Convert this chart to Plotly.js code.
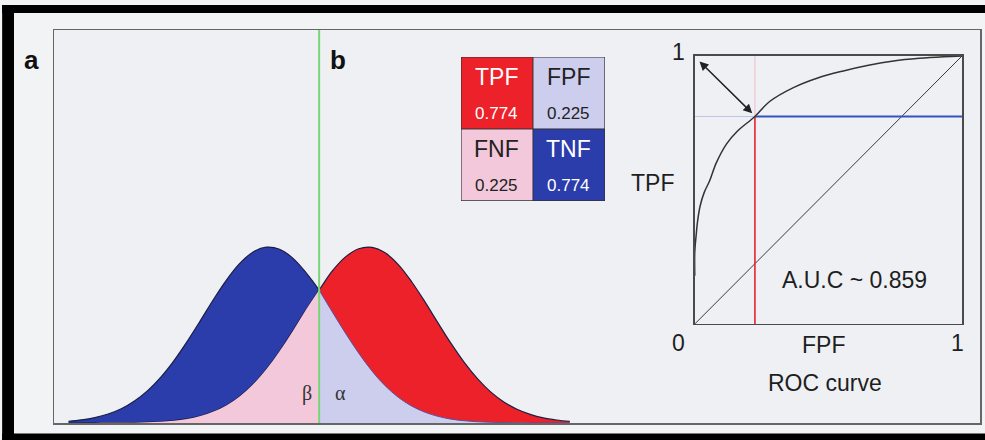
<!DOCTYPE html>
<html>
<head>
<meta charset="utf-8">
<script src="https://cdn.plot.ly/plotly-3.0.1.min.js"></script>
<style>
html,body{margin:0;padding:0;background:#f3f4f6;}
#chart{width:985px;height:440px;}
</style>
</head>
<body>
<div id="chart"></div>
<script>
// ---- data ----
const scoreX = [-3.8,-3.6,-3.4,-3.2,-3.0,-2.8,-2.6,-2.4,-2.2,-2.0,-1.8,-1.6,-1.4,-1.2,-1.0,-0.8,-0.6,-0.4,-0.2,0,
                0.2,0.4,0.6,0.8,1.0,1.2,1.4,1.6,1.8,2.0,2.2,2.4,2.6,2.8,3.0,3.2,3.4,3.6,3.8];
const negativeDensity = [0.010,0.018,0.031,0.051,0.081,0.125,0.184,0.261,0.355,0.464,0.582,0.703,0.815,0.908,0.972,0.999,0.987,0.937,0.855,0.755,
                0.631,0.510,0.397,0.296,0.212,0.146,0.097,0.062,0.038,0.022,0.013,0.007,0.004,0.002,0.001,0,0,0,0];
const positiveDensity = [0,0,0,0.001,0.001,0.002,0.004,0.007,0.013,0.023,0.040,0.065,0.101,0.152,0.220,0.305,0.407,0.522,0.643,0.755,
                0.864,0.944,0.990,0.998,0.967,0.900,0.804,0.691,0.570,0.452,0.344,0.252,0.177,0.120,0.078,0.049,0.029,0.017,0.009];
const threshold = 0;

const cellNames = ["TPF","FPF","FNF","TNF"];
const cellValues = [0.774, 0.225, 0.225, 0.774];

const rocFPF = [0, 0, 0.005, 0.01, 0.02, 0.035, 0.056, 0.08, 0.119, 0.16, 0.225, 0.28, 0.369, 0.46, 0.556, 0.65, 0.744, 0.84, 0.931, 1.0];
const rocTPF = [0.18, 0.27, 0.33, 0.38, 0.44, 0.49, 0.535, 0.60, 0.672, 0.72, 0.774, 0.83, 0.882, 0.918, 0.944, 0.965, 0.981, 0.991, 0.997, 1.0];
const operatingFPF = 0.225;
const operatingTPF = 0.774;
const aucText = "A.U.C ~ 0.859";
const rocAxisLabels = ["0", "1", "1"];
const rocTitle = "ROC curve";

// ---- styles ----
const BLUE = "#2b3cab", RED = "#ec2129", PINK = "#f3c8da", LAV = "#cdcdee";
const OUT = "#1c1f45";
const yTop = 2.233;

const iThr = scoreX.indexOf(threshold);
const traces = [];

// distributions
traces.push({x: scoreX, y: negativeDensity, type: "scatter", mode: "lines", fill: "tozeroy",
  fillcolor: BLUE, line: {color: OUT, width: 1.2, shape: "spline"}, hoverinfo: "skip"});
traces.push({x: scoreX, y: positiveDensity, type: "scatter", mode: "lines", fill: "tozeroy",
  fillcolor: RED, line: {color: OUT, width: 1.2, shape: "spline"}, hoverinfo: "skip"});
traces.push({x: scoreX.slice(0, iThr + 1), y: positiveDensity.slice(0, iThr + 1), type: "scatter", mode: "lines",
  fill: "tozeroy", fillcolor: PINK, line: {color: "rgba(0,0,0,0)", width: 0, shape: "spline"}, hoverinfo: "skip"});
traces.push({x: scoreX.slice(iThr), y: negativeDensity.slice(iThr), type: "scatter", mode: "lines",
  fill: "tozeroy", fillcolor: LAV, line: {color: "#5b4f9e", width: 1, shape: "spline"}, hoverinfo: "skip"});
// threshold
traces.push({x: [threshold, threshold], y: [0, yTop], type: "scatter", mode: "lines",
  line: {color: "#78d678", width: 2}, hoverinfo: "skip", cliponaxis: false});

// confusion matrix
traces.push({type: "heatmap", xaxis: "x3", yaxis: "y3",
  x: [0, 1], y: [0, 1], z: [[0, 1], [2, 3]], zmin: -0.5, zmax: 3.5, showscale: false, hoverinfo: "skip",
  colorscale: [[0, RED], [0.25, RED], [0.25, LAV], [0.5, LAV], [0.5, PINK], [0.75, PINK], [0.75, BLUE], [1, BLUE]]});

// ROC
traces.push({x: [operatingFPF, operatingFPF], y: [operatingTPF, 1], xaxis: "x2", yaxis: "y2", type: "scatter", mode: "lines",
  line: {color: "#f2bcc6", width: 1}, hoverinfo: "skip", cliponaxis: false});
traces.push({x: [0, operatingFPF], y: [operatingTPF, operatingTPF], xaxis: "x2", yaxis: "y2", type: "scatter", mode: "lines",
  line: {color: "#bcc6ea", width: 1}, hoverinfo: "skip", cliponaxis: false});
traces.push({x: [0, 1], y: [0, 1], xaxis: "x2", yaxis: "y2", type: "scatter", mode: "lines",
  line: {color: "#3a3a3a", width: 1}, hoverinfo: "skip", cliponaxis: false});
traces.push({x: [operatingFPF, operatingFPF], y: [0, operatingTPF], xaxis: "x2", yaxis: "y2", type: "scatter", mode: "lines",
  line: {color: "#e8222c", width: 1.6}, hoverinfo: "skip", cliponaxis: false});
traces.push({x: [operatingFPF, 1], y: [operatingTPF, operatingTPF], xaxis: "x2", yaxis: "y2", type: "scatter", mode: "lines",
  line: {color: "#3552c2", width: 2}, hoverinfo: "skip", cliponaxis: false});
traces.push({x: rocFPF, y: rocTPF, xaxis: "x2", yaxis: "y2", type: "scatter", mode: "lines",
  line: {color: "#333", width: 1.5, shape: "spline"}, hoverinfo: "skip", cliponaxis: false});

// annotations
const TXT = "#1e1e1e";
const ann = [];
function txt(xref, yref, x, y, text, font) {
  ann.push({xref, yref, x, y, text, showarrow: false, xanchor: "center", yanchor: "middle", font});
}
const BF = {family: "Liberation Sans, Arial, sans-serif", size: 26, color: "#111"};
txt("paper", "paper", -0.0238, 0.9237, "<b>a</b>", BF);
txt("paper", "paper", 0.3067, 0.9237, "<b>b</b>", BF);
const GF = {family: "Liberation Serif, Times New Roman, serif", size: 20, color: "#333"};
txt("x", "y", -0.18, 0.17, "β", GF);
txt("x", "y", 0.33, 0.17, "α", GF);

const cellPos = [[0, 0], [1, 0], [0, 1], [1, 1]];
const cellTextColor = ["#fff", "#222", "#222", "#fff"];
cellNames.forEach((n, i) => {
  txt("x3", "y3", cellPos[i][0], cellPos[i][1] - 0.22, n,
    {family: "Liberation Sans, Arial, sans-serif", size: 23, color: cellTextColor[i]});
  txt("x3", "y3", cellPos[i][0], cellPos[i][1] + 0.28, cellValues[i].toFixed(3),
    {family: "Liberation Sans, Arial, sans-serif", size: 17, color: cellTextColor[i]});
});

const LF = {family: "Liberation Sans, Arial, sans-serif", size: 23, color: TXT};
txt("paper", "paper", 0.6739, 0.944, rocAxisLabels[2], LF);
txt("paper", "paper", 0.6739, 0.2036, rocAxisLabels[0], LF);
txt("paper", "paper", 0.9762, 0.2036, rocAxisLabels[1], LF);
txt("paper", "paper", 0.8305, 0.1985, "FPF", LF);
txt("paper", "paper", 0.8326, 0.1018, rocTitle, LF);
txt("paper", "paper", 0.6458, 0.6107, "TPF", LF);
txt("x2", "y2", 0.599, 0.164, aucText, LF);
// double-headed arrow
ann.push({xref: "x2", yref: "y2", axref: "x2", ayref: "y2", x: operatingFPF - 0.01, y: operatingTPF + 0.012,
  ax: 0.012, ay: 0.985, text: "", showarrow: true, arrowhead: 2, startarrowhead: 2, arrowside: "end+start",
  arrowsize: 1.2, startarrowsize: 1.2, arrowwidth: 1.5, arrowcolor: "#222"});

const shapes = [
  // scan frame (black)
  {type: "rect", xref: "paper", yref: "paper", x0: -0.056, x1: -0.0432, y0: -0.0433, y1: 1.0636, fillcolor: "#000", line: {width: 0}},
  {type: "rect", xref: "paper", yref: "paper", x0: -0.056, x1: 1.0054, y0: 1.0433, y1: 1.0636, fillcolor: "#000", line: {width: 0}},
  {type: "rect", xref: "paper", yref: "paper", x0: -0.056, x1: 1.0054, y0: -0.0433, y1: -0.027, fillcolor: "#000", line: {width: 0}},
  // matrix grid
  {type: "rect", xref: "x3", yref: "y3", x0: -0.5, x1: 1.5, y0: -0.5, y1: 1.5, line: {color: "#333", width: 1.2}},
  {type: "line", xref: "x3", yref: "y3", x0: 0.5, x1: 0.5, y0: -0.5, y1: 1.5, line: {color: "#333", width: 1}},
  {type: "line", xref: "x3", yref: "y3", x0: -0.5, x1: 1.5, y0: 0.5, y1: 0.5, line: {color: "#333", width: 1}}
];

const layout = {
  width: 985, height: 440,
  margin: {l: 54, r: 5, t: 30, b: 17, pad: 0},
  paper_bgcolor: "#f2f3f5", plot_bgcolor: "#eef0f4",
  showlegend: false,
  xaxis: {range: [-4.02, 10.02], showgrid: false, zeroline: false, showticklabels: false, ticks: "",
    showline: true, mirror: true, linecolor: "#666", linewidth: 1.5},
  yaxis: {range: [0, yTop], showgrid: false, zeroline: false, showticklabels: false, ticks: "",
    showline: true, mirror: true, linecolor: "#666", linewidth: 1.5},
  xaxis2: {domain: [0.692, 0.9806], anchor: "y2", range: [0, 1], showgrid: false, zeroline: false, showticklabels: false,
    ticks: "", showline: true, mirror: true, linecolor: "#4a4a4a", linewidth: 1.5},
  yaxis2: {domain: [0.252, 0.934], anchor: "x2", range: [0, 1], showgrid: false, zeroline: false, showticklabels: false,
    ticks: "", showline: true, mirror: true, linecolor: "#4a4a4a", linewidth: 1.5},
  xaxis3: {domain: [0.4395, 0.595], anchor: "y3", range: [-0.5, 1.5], showgrid: false, zeroline: false, showticklabels: false, ticks: ""},
  yaxis3: {domain: [0.565, 0.9313], anchor: "x3", range: [1.5, -0.5], showgrid: false, zeroline: false, showticklabels: false, ticks: ""},
  annotations: ann,
  shapes: shapes
};

Plotly.newPlot("chart", traces, layout, {staticPlot: true, displayModeBar: false});
</script>
</body>
</html>
